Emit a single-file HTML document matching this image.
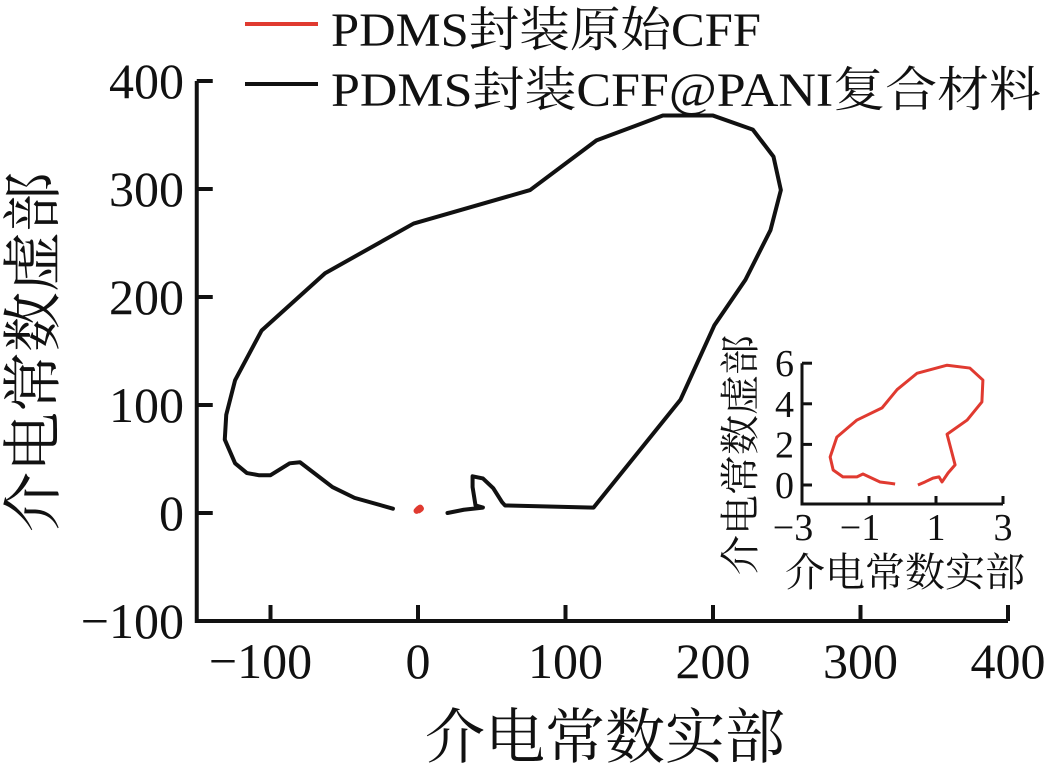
<!DOCTYPE html>
<html><head><meta charset="utf-8"><style>
html,body{margin:0;padding:0;background:#fff;}
svg{display:block;}
text{font-family:"Liberation Serif","Noto Serif CJK SC",serif;fill:#111;}
</style></head><body>
<svg id="chart" width="1055" height="767" viewBox="0 0 1055 767" xmlns="http://www.w3.org/2000/svg">
<g id="main"></g>
<g id="inset"></g>
<g>
 <line x1="245" y1="24" x2="318" y2="24" stroke="#e03a30" stroke-width="4"/>
 <text x="331" y="46" font-size="48" textLength="430" lengthAdjust="spacingAndGlyphs">PDMS封装原始CFF</text>
 <line x1="245" y1="84" x2="318" y2="84" stroke="#111" stroke-width="4"/>
 <text x="331" y="106" font-size="48" textLength="710" lengthAdjust="spacingAndGlyphs">PDMS封装CFF@PANI复合材料</text>
</g>
</svg>
<script>
// main chart data
const mainXTicks = [-100, 0, 100, 200, 300, 400];
const mainYTicks = [-100, 0, 100, 200, 300, 400];
const blackX = [-17,-43,-58,-80,-87,-100,-108,-116,-124,-131,-130,-124,-106,-63,-3,76,121,166,200,227,241,246,239,222,201,178,119,59,57,51,44,37,37,39,44,31,20];
const blackY = [4,14,24,47,46,35,35,37,46,68,91,123,169,222,268,299,345,368,368,355,330,299,262,216,174,105,5,7,10,23,32,34,24,7,5,3,0];
const redMainX = [-1,0,1.5,2,0.5];
const redMainY = [2,3.5,5,4,2.5];
// inset data
const insetXTicks = [-3,-1,1,3];
const insetYTicks = [0,2,4,6];
const redX = [-0.22,-0.67,-1.18,-1.36,-1.78,-2.07,-2.16,-1.96,-1.36,-0.61,-0.16,0.43,1.33,2.01,2.4,2.37,1.93,1.33,1.57,1.36,1.18,1.09,0.91,0.67,0.46];
const redY = [0.05,0.15,0.54,0.4,0.4,0.74,1.38,2.36,3.2,3.8,4.7,5.5,5.9,5.76,5.17,4.09,3.2,2.5,0.99,0.59,0.15,0.4,0.34,0.15,0];

const NS="http://www.w3.org/2000/svg";
function mk(parent,tag,attrs){const e=document.createElementNS(NS,tag);for(const k in attrs)e.setAttribute(k,attrs[k]);parent.appendChild(e);return e;}

// main axes
const mx=v=>418+(v)*1.475, my=v=>513-v*1.08;
const gm=document.getElementById('main');
let ax=mk(gm,'path',{d:`M${mx(-150)},${my(400)} L${mx(-150)},${my(-100)} L${mx(400)},${my(-100)}`,fill:'none',stroke:'#111','stroke-width':4});


mainXTicks.forEach(t=>{
 const l=mk(gm,'line',{x1:mx(t),x2:mx(t),y1:my(-100),y2:my(-100)-16,stroke:'#111','stroke-width':4});
 
 
 const tx=mk(gm,'text',{x:mx(t)-(t<0?10:0),y:678,'font-size':50,'text-anchor':'middle'});
 tx.textContent=(t<0?'\u2212':'')+Math.abs(t);
 
 
});
mainYTicks.forEach(t=>{
 const l=mk(gm,'line',{x1:mx(-150),x2:mx(-150)+16,y1:my(t),y2:my(t),stroke:'#111','stroke-width':4});
 
 
 const tx=mk(gm,'text',{x:184,y:my(t)+17,'font-size':50,'text-anchor':'end'});
 tx.textContent=(t<0?'\u2212':'')+Math.abs(t);
 
 
});
let xt=mk(gm,'text',{x:605,y:758,'font-size':60,'text-anchor':'middle'});xt.textContent='介电常数实部';


let yt=mk(gm,'text',{x:0,y:0,'font-size':60,'text-anchor':'middle',transform:'translate(54,352) rotate(-90)'});yt.textContent='介电常数虚部';


let bp=mk(gm,'polyline',{points:blackX.map((v,i)=>mx(v)+','+my(blackY[i])).join(' '),fill:'none',stroke:'#111','stroke-width':4,'stroke-linejoin':'round','stroke-linecap':'round'});


let rp=mk(gm,'polyline',{points:redMainX.map((v,i)=>mx(v)+','+my(redMainY[i])).join(' '),fill:'none',stroke:'#e03a30','stroke-width':6,'stroke-linejoin':'round','stroke-linecap':'round'});



// inset
const ix=v=>802+(v+3)*33.5, iy=v=>485-v*20.3;
const gi=document.getElementById('inset');


let iax=mk(gi,'path',{d:`M${ix(-3)},${iy(6)} L${ix(-3)},504 L${ix(3)},504`,fill:'none',stroke:'#111','stroke-width':3});


insetXTicks.forEach(t=>{
 const l=mk(gi,'line',{x1:ix(t),x2:ix(t),y1:504,y2:496,stroke:'#111','stroke-width':3});
 
 
 const tx=mk(gi,'text',{x:ix(t)-(t<0?9:0),y:540,'font-size':38,'text-anchor':'middle'});
 tx.textContent=(t<0?'\u2212':'')+Math.abs(t);
 
 
});
insetYTicks.forEach(t=>{
 const l=mk(gi,'line',{x1:ix(-3),x2:ix(-3)+10,y1:iy(t),y2:iy(t),stroke:'#111','stroke-width':3});
 
 
 const tx=mk(gi,'text',{x:794,y:iy(t)+13,'font-size':38,'text-anchor':'end'});
 tx.textContent=t;
 
 
});
let ixt=mk(gi,'text',{x:905,y:586,'font-size':40,'text-anchor':'middle'});ixt.textContent='介电常数实部';


let iyt=mk(gi,'text',{x:0,y:0,'font-size':40,'text-anchor':'middle',transform:'translate(754,455) rotate(-90)'});iyt.textContent='介电常数虚部';


let irp=mk(gi,'polyline',{points:redX.map((v,i)=>ix(v)+','+iy(redY[i])).join(' '),fill:'none',stroke:'#e03a30','stroke-width':3,'stroke-linejoin':'round'});


</script>
</body></html>
